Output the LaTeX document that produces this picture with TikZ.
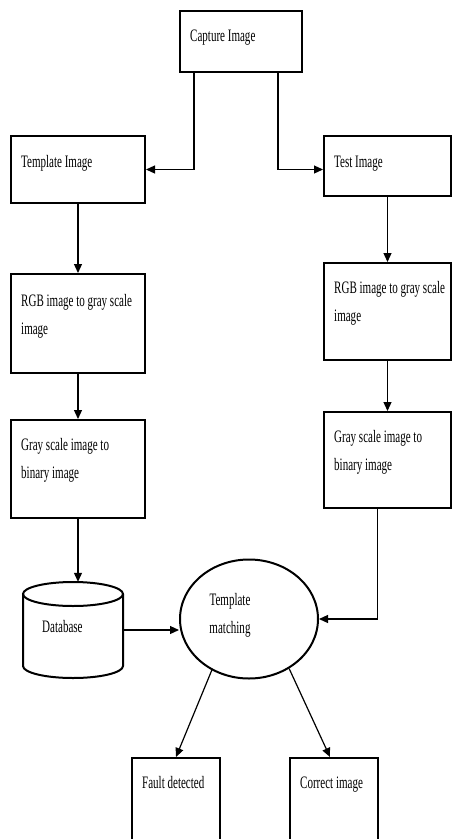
\documentclass[tikz,border=0pt]{standalone}
\usepackage{fontspec}
\setmainfont{Liberation Serif}[FakeStretch=0.63]
\usetikzlibrary{arrows.meta,calc,shapes.geometric}
\begin{document}
\begin{tikzpicture}[x=1pt,y=-1pt,
  box/.style={draw, line width=2pt, inner sep=0pt, rectangle},
  lbl/.style={inner sep=0pt, anchor=base west, align=left, font=\fontsize{17.5}{28}\selectfont},
  arr/.style={line width=1.2pt, -{Triangle[length=9pt,width=8pt]}},
  cyl/.style={line width=2pt}]
\useasboundingbox[fill=white] (0,0) rectangle (454,839);

% boxes
\node[box, minimum width=122pt, minimum height=61pt] (cap) at (241,41.5) {};
\node[box, minimum width=134pt, minimum height=67pt] (tmpl) at (78,169.5) {};
\node[box, minimum width=127pt, minimum height=60pt] (test) at (387.5,166) {};
\node[box, minimum width=134pt, minimum height=99pt] (rgbL) at (78,323.5) {};
\node[box, minimum width=134pt, minimum height=98pt] (grayL) at (78,469) {};
\node[box, minimum width=127pt, minimum height=97pt] (rgbR) at (387.5,311.5) {};
\node[box, minimum width=127pt, minimum height=96pt] (grayR) at (387.5,460) {};
\node[box, minimum width=88pt, minimum height=100pt] (fault) at (176,808) {};
\node[box, minimum width=88pt, minimum height=100pt] (corr) at (334,808) {};

% database cylinder
\node[inner sep=0pt, minimum width=100pt, minimum height=96pt] (db) at (73,630) {};
\draw[cyl] (73,594) ellipse [x radius=50pt, y radius=12pt];
\draw[cyl] (23,594) -- (23,666) arc[start angle=180, end angle=360, x radius=50pt, y radius=12pt] -- (123,594);

% ellipse
\node[draw, ellipse, line width=2pt, inner sep=0pt, minimum width=138pt, minimum height=119pt] (tm) at (249,619) {};

% texts (base anchor = baseline of the last line)
\node[lbl] (capT) at (190,41.5) {Capture Image};
\node[lbl] (tmplT) at (21,167.5) {Template Image};
\node[lbl] (testT) at (334,167.5) {Test Image};
\node[lbl] (rgbLT) at (21,334.5) {RGB image to gray scale\\image};
\node[lbl] (rgbRT) at (334,321.5) {RGB image to gray scale\\image};
\node[lbl] (grayLT) at (21,478.5) {Gray scale image to\\binary image};
\node[lbl] (grayRT) at (334,470.5) {Gray scale image to\\binary image};
\node[lbl] (dbT) at (42,632.5) {Database};
\node[lbl, align=center, anchor=base] (tmT) at (230,633.5) {Template\\matching};
\node[lbl] (faultT) at (142,788.5) {Fault detected};
\node[lbl] (corrT) at (300,788.5) {Correct image};

% connectors
\draw[arr] ($(cap.south west)+(15,0)$) |- (tmpl.east);
\draw[arr] ($(cap.south east)+(-25,0)$) |- (test.west |- tmpl.east);
\draw[arr] (tmpl.south) -- (rgbL.north);
\draw[arr] (rgbL.south) -- (grayL.north);
\draw[arr] (grayL.south) -- (grayL.south |- db.north);
\draw[arr] (test.south) -- (rgbR.north);
\draw[arr] (rgbR.south) -- (grayR.north);
\draw[arr] ($(grayR.south)+(-10,0)$) |- (tm.east);
\draw[arr] (db.east) -- (db.east -| tm.west);
\draw[arr] (tm.234) -- (fault.north);
\draw[arr] (tm.309) -- ($(corr.north)+(-4,0)$);
\end{tikzpicture}
\end{document}
